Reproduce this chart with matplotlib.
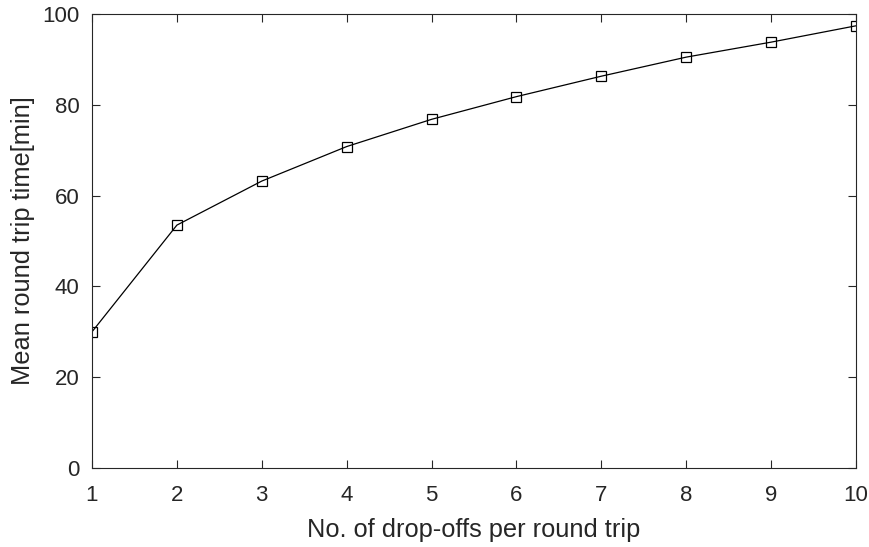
import numpy as np
import matplotlib.pyplot as plt

plt.rcParams['font.family'] = ['Liberation Sans', 'DejaVu Sans']

drop_offs = [1, 2, 3, 4, 5, 6, 7, 8, 9, 10]
round_trip = [30.0, 53.5, 63.2, 70.8, 76.8, 81.8, 86.3, 90.5, 93.8, 97.4]

axis_col = '#262626'

fig = plt.figure(figsize=(8.7, 5.47), dpi=100)
ax = fig.add_axes([92/870, 1-468/547, (856-92)/870, (468-14)/547])

ax.plot(drop_offs, round_trip, 'k-', lw=0.9, marker='s', ms=7,
        mfc='none', mec='k', mew=0.9)

ax.set_xlim(1, 10)
ax.set_ylim(0, 100)
ax.set_xticks(np.arange(1, 11))
ax.set_yticks(np.arange(0, 101, 20))
ax.tick_params(direction='in', top=True, right=True, length=6, width=0.8,
               colors=axis_col, labelsize=16)
ax.tick_params(axis='x', pad=12)
ax.tick_params(axis='y', pad=9)
for s in ax.spines.values():
    s.set_color(axis_col)
    s.set_linewidth(0.8)

ax.set_xlabel("No. of drop-offs per round trip", fontsize=18.3,
              color=axis_col, labelpad=9)
ax.set_ylabel("Mean round trip time[min]", fontsize=18.3,
              color=axis_col, labelpad=5)

fig.savefig("out.png", dpi=100)
